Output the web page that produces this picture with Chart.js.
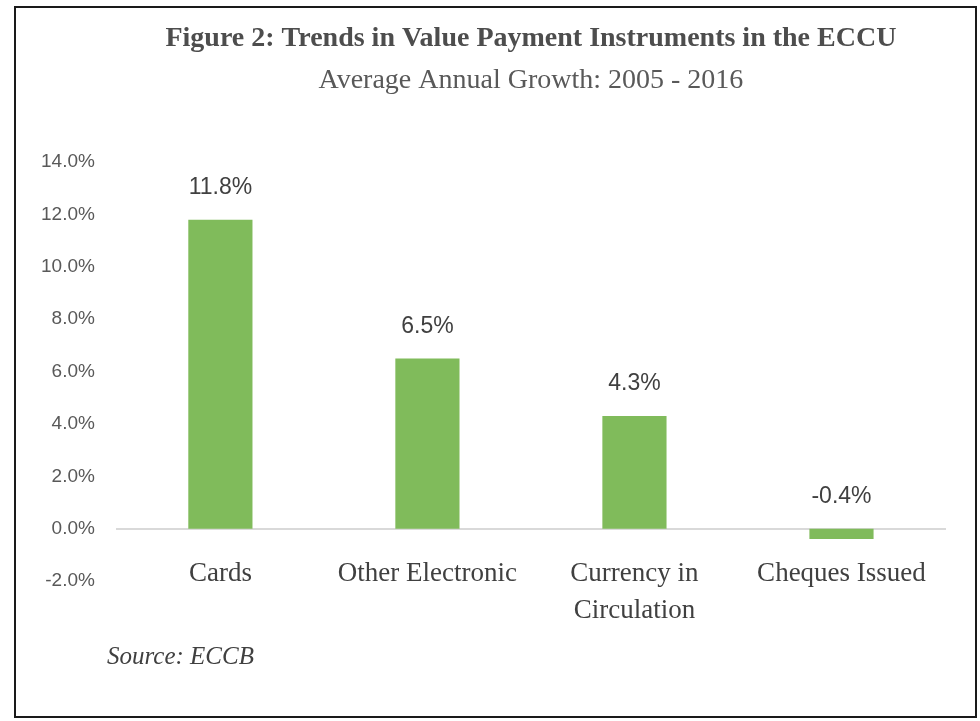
<!DOCTYPE html>
<html lang="en">
<head>
  <meta charset="UTF-8">
  <title>Figure 2: Trends in Value Payment Instruments in the ECCU</title>
  <style>
    body {
      margin: 0;
      background: #ffffff;
    }
    #wrap {
      position: relative;
      width: 980px;
      height: 721px;
    }
    #wrap canvas {
      position: absolute;
      left: 0;
      top: 0;
    }
    #frame {
      position: absolute;
      left: 14px;
      top: 6px;
      width: 963px;
      height: 712px;
      border: 2px solid #1a1a1a;
      box-sizing: border-box;
      pointer-events: none;
    }
  </style>
</head>
<body>
  <div id="wrap">
    <canvas id="myChart" width="980" height="721"></canvas>
    <div id="frame"></div>
  </div>

  <script src="https://cdn.jsdelivr.net/npm/chart.js"></script>
  <script>
    // data
    const categories = ['Cards', 'Other Electronic', ['Currency in', 'Circulation'], 'Cheques Issued'];
    const growth = [11.8, 6.5, 4.3, -0.4];
    const yTickRange = [-2, 14];
    const yTickStep = 2;
    const sourceNote = 'Source: ECCB';

    const serif = "'Liberation Serif', 'Times New Roman', serif";
    const sans = "'Liberation Sans', Arial, sans-serif";

    // value labels above each bar (above the zero line for negatives)
    const valueLabels = {
      id: 'valueLabels',
      afterDatasetsDraw(chart) {
        const ctx = chart.ctx;
        const meta = chart.getDatasetMeta(0);
        ctx.save();
        ctx.font = '23px ' + sans;
        ctx.fillStyle = '#404040';
        ctx.textAlign = 'center';
        ctx.textBaseline = 'alphabetic';
        meta.data.forEach((bar, i) => {
          const top = Math.min(bar.y, bar.base);
          ctx.fillText(growth[i].toFixed(1) + '%', bar.x, top - 26);
        });
        ctx.restore();
      }
    };

    const sourceText = {
      id: 'sourceText',
      afterDraw(chart) {
        const ctx = chart.ctx;
        ctx.save();
        ctx.font = 'italic 25px ' + serif;
        ctx.fillStyle = '#404040';
        ctx.textAlign = 'left';
        ctx.textBaseline = 'middle';
        ctx.fillText(sourceNote, 107, 657);
        ctx.restore();
      }
    };

    const ctx = document.getElementById('myChart').getContext('2d');
    new Chart(ctx, {
      type: 'bar',
      data: {
        labels: categories,
        datasets: [{
          data: growth,
          backgroundColor: '#80bb5b',
          borderWidth: 0,
          categoryPercentage: 1,
          barPercentage: 0.31
        }]
      },
      options: {
        responsive: false,
        animation: false,
        devicePixelRatio: 1,
        layout: {
          padding: { top: 20, left: 19, right: 35, bottom: 140 }
        },
        plugins: {
          legend: { display: false },
          tooltip: { enabled: false },
          title: {
            display: true,
            fullSize: false,
            text: 'Figure 2: Trends in Value Payment Instruments in the ECCU',
            color: '#4d4d4d',
            font: { family: serif, size: 28, weight: 'bold' },
            padding: { top: 2, bottom: 4 }
          },
          subtitle: {
            display: true,
            fullSize: false,
            text: 'Average Annual Growth: 2005 - 2016',
            color: '#595959',
            font: { family: serif, size: 28, weight: 'normal' },
            padding: { top: 4, bottom: 65 }
          }
        },
        scales: {
          x: {
            position: { y: 0 },
            grid: { display: true, color: 'rgba(0,0,0,0)', drawTicks: false },
            border: { display: true, color: '#d9d9d9', width: 2 },
            ticks: {
              color: '#404040',
              padding: 26,
              maxRotation: 0,
              font: { family: serif, size: 27, lineHeight: 1.4 }
            }
          },
          y: {
            min: yTickRange[0],
            max: yTickRange[1],
            grid: { display: false, drawTicks: false },
            border: { display: false },
            ticks: {
              stepSize: yTickStep,
              color: '#595959',
              padding: 22,
              font: { family: sans, size: 19 },
              callback: v => v.toFixed(1) + '%'
            }
          }
        }
      },
      plugins: [valueLabels, sourceText]
    });
  </script>
</body>
</html>
